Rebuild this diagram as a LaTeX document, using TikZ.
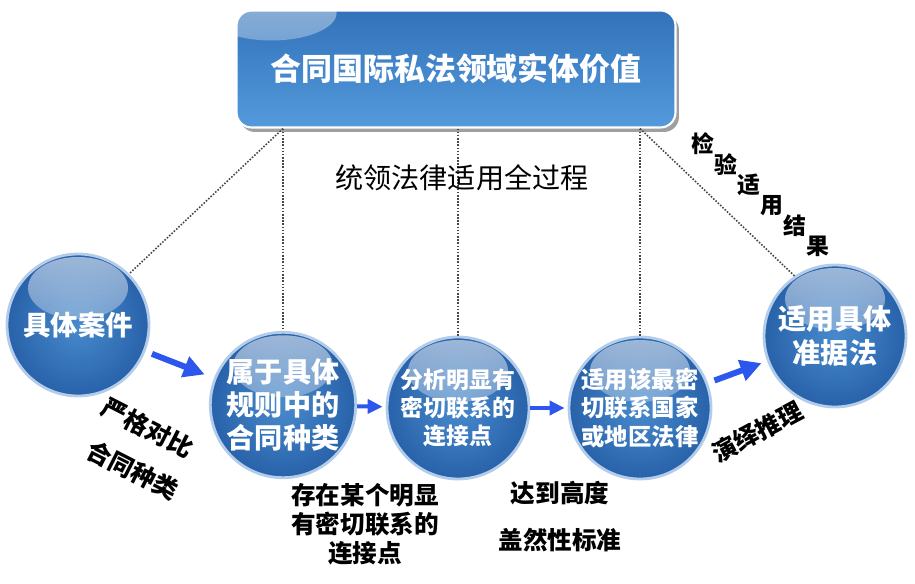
\documentclass[tikz,border=0pt]{standalone}
\usepackage{fontspec}
\setmainfont{Noto Sans CJK SC}
\usepackage{tikz}
\usetikzlibrary{arrows.meta,shapes,shadows,fadings,calc,positioning}
\definecolor{azulOscuro}{RGB}{40,98,170}
\definecolor{azulClaro}{RGB}{72,138,204}
\definecolor{azulBorde}{RGB}{178,204,234}
\definecolor{azulCaja}{RGB}{50,114,186}
\definecolor{azulCajaClaro}{RGB}{84,154,220}
\definecolor{azulFlecha}{RGB}{44,86,236}
\definecolor{grisPunto}{RGB}{70,70,70}
\tikzstyle{bola}=[circle, minimum size=2.84cm, inner sep=0pt,
                  shading=radial, inner color=azulClaro,
                  outer color=azulOscuro, draw=azulBorde,
                  line width=1.6pt, text=white, align=center,
                  path picture={\fill[white, fill opacity=0.55, path fading=south]
                  ($(path picture bounding box.north)+(0,-0.68cm)$)
                  ellipse (1cm and 0.62cm);}]
\tikzstyle{caja}=[rectangle, rounded corners=0.3cm, minimum width=8.78cm,
                  minimum height=2.34cm, top color=azulCaja,
                  bottom color=azulCajaClaro, draw=white, line width=1.2pt,
                  text=white, font=\fontsize{17.6}{20}\selectfont\bfseries,
                  drop shadow={shadow xshift=0.07cm, shadow yshift=-0.09cm,
                  fill=gray!75, opacity=1},
                  path picture={\fill[white, fill opacity=0.5, path fading=south]
                  ($(path picture bounding box.north west)+(0.7cm,-0.05cm)$)
                  ellipse (1.3cm and 0.55cm);}]
\tikzstyle{punteado}=[line width=0.9pt, grisPunto,
                      dash pattern=on 0.9pt off 0.9pt]
\tikzstyle{flecha}=[-{Triangle[length=0.42cm,width=0.42cm]},
                    line width=0.12cm, azulFlecha]
\tikzstyle{flechita}=[-{Triangle[length=0.3cm,width=0.28cm]},
                      line width=0.08cm, azulFlecha]
\tikzstyle{etiqueta}=[inner sep=0pt, align=center,
                      font=\fontsize{14}{16.5}\selectfont\bfseries]
\tikzstyle{diag}=[inner sep=0pt, font=\fontsize{13}{14}\selectfont\bfseries]

\begin{document}
\begin{tikzpicture}[x=0.02cm, y=-0.02cm]
    \useasboundingbox (0,0) rectangle (915,584);

    % caja superior
    \node[caja] (valor) at (456,69) {合同国际私法领域实体价值};

    % bolas
    \node[bola, font=\fontsize{15.6}{18}\selectfont\bfseries] (c1) at (78,325) {具体案件};
    \node[bola, font=\fontsize{16}{18.8}\selectfont\bfseries] (c2) at (283,405)
        {属于具体\\规则中的\\合同种类};
    \node[bola, font=\fontsize{13}{16}\selectfont\bfseries] (c3) at (458,408)
        {分析明显有\\密切联系的\\连接点};
    \node[bola, font=\fontsize{13.3}{16}\selectfont\bfseries] (c4) at (640,408)
        {适用该最密\\切联系国家\\或地区法律};
    \node[bola, font=\fontsize{16}{19}\selectfont\bfseries] (c5) at (835,336)
        {适用具体\\准据法};

    % lineas punteadas
    \foreach \i/\j in {c2/c2.north,c2/c1.45,c3/c3.north,c4/c4.north,c4/c5.124}
        \draw[punteado] (valor.south -| \i.north) -- (\j);

    % flechas
    \draw[flecha, shorten <=0.14cm, shorten >=0.2cm] (c1) -- (c2);
    \draw[flechita, shorten >=0.06cm] (c2) -- (c3);
    \draw[flechita, shorten >=0.06cm] (c3) -- (c4);
    \draw[flecha, shorten <=0.14cm, shorten >=0.12cm] (c4) -- (c5);

    % textos
    \node[font=\fontsize{16}{18}\selectfont] (t0) at (462,178) {统领法律适用全过程};
    \node[etiqueta, rotate=-27] (t1) at (148,428) {严格对比};
    \node[etiqueta, rotate=-27] (t2) at (133,470) {合同种类};
    \node[etiqueta] (t3) at (365,524) {存在某个明显\\有密切联系的\\连接点};
    \node[etiqueta] (t4) at (560,493) {达到高度};
    \node[etiqueta] (t5) at (560,540) {盖然性标准};
    \node[etiqueta, rotate=28] (t6) at (757,432) {演绎推理};
    \foreach \c [count=\k from 0] in {检,验,适,用,结,果}
        \node[diag] (v\k) at ({703+23*\k},{144+20.4*\k}) {\c};

\end{tikzpicture}
\end{document}
